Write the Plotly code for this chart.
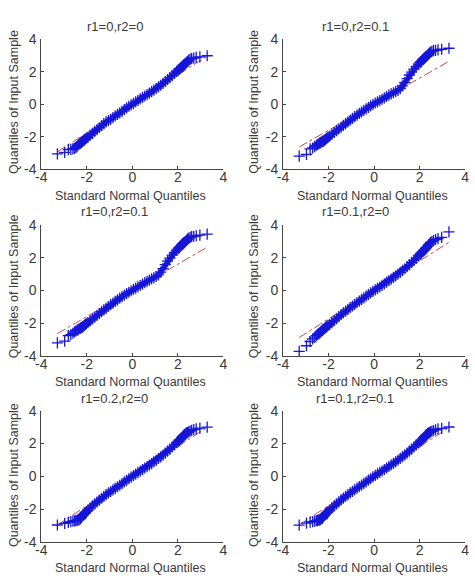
import plotly.graph_objects as go

# ---------------- data ----------------
titles = ["r1=0,r2=0", "r1=0,r2=0.1", "r1=0,r2=0.1", "r1=0.1,r2=0", "r1=0.2,r2=0", "r1=0.1,r2=0.1"]
tick_vals = [-4, -2, 0, 2, 4]
tick_text = ["-4", "-2", "0", "2", "4"]
x_label = "Standard Normal Quantiles"
y_label = "Quantiles of Input Sample"

# standard normal quantiles (shared x positions)
x_q = [-3.29, -2.97, -2.81, -2.70, -2.61, -2.54, -2.48, -2.43, -2.39, -2.35,
       -2.30, -2.27, -2.24, -2.21, -2.18, -2.14, -2.10, -2.06, -2.02,
       -1.95, -1.85, -1.75, -1.65, -1.55, -1.45, -1.35, -1.25, -1.15, -1.05,
       -0.95, -0.85, -0.75, -0.65, -0.55, -0.45, -0.35, -0.25, -0.15, -0.05,
       0.05, 0.15, 0.25, 0.35, 0.45, 0.55, 0.65, 0.75, 0.85, 0.95,
       1.05, 1.15, 1.25, 1.35, 1.45, 1.55, 1.65, 1.75, 1.85, 1.95,
       2.02, 2.06, 2.10, 2.14, 2.18, 2.21, 2.24, 2.27, 2.30, 2.35,
       2.39, 2.43, 2.48, 2.54, 2.61, 2.70, 2.81, 2.97, 3.29]

y_p1 = [-3.04, -2.95, -2.78, -2.76, -2.74, -2.70, -2.66, -2.60, -2.52, -2.45,
        -2.40, -2.36, -2.33, -2.30, -2.27, -2.22, -2.18, -2.13, -2.08,
        -2.03, -1.90, -1.78, -1.66, -1.56, -1.44, -1.30, -1.18, -1.08, -1.00,
        -0.92, -0.82, -0.71, -0.62, -0.53, -0.43, -0.33, -0.22, -0.12, -0.03,
        0.06, 0.15, 0.24, 0.33, 0.42, 0.51, 0.60, 0.69, 0.78, 0.87,
        0.97, 1.07, 1.17, 1.29, 1.40, 1.52, 1.64, 1.76, 1.89, 2.02,
        2.10, 2.15, 2.20, 2.25, 2.30, 2.34, 2.38, 2.42, 2.47, 2.53,
        2.58, 2.64, 2.72, 2.77, 2.80, 2.84, 2.88, 2.91, 2.98]

y_p2 = [-3.18, -3.08, -2.74, -2.68, -2.60, -2.52, -2.46, -2.42, -2.38, -2.35,
        -2.31, -2.28, -2.26, -2.24, -2.20, -2.16, -2.11, -2.06, -2.02,
        -1.95, -1.84, -1.73, -1.62, -1.51, -1.40, -1.29, -1.18, -1.08, -0.97,
        -0.86, -0.76, -0.66, -0.56, -0.46, -0.37, -0.28, -0.19, -0.10, -0.01,
        0.08, 0.15, 0.23, 0.31, 0.39, 0.48, 0.56, 0.64, 0.71, 0.78,
        0.86, 0.96, 1.13, 1.34, 1.58, 1.80, 1.98, 2.16, 2.32, 2.46,
        2.56, 2.62, 2.68, 2.74, 2.80, 2.84, 2.88, 2.92, 2.96, 3.02,
        3.08, 3.14, 3.20, 3.25, 3.29, 3.31, 3.34, 3.38, 3.44]

y_p3 = list(y_p2)

y_p4 = [-3.70, -3.36, -3.10, -2.95, -2.84, -2.74, -2.67, -2.62, -2.57, -2.52,
        -2.46, -2.42, -2.38, -2.34, -2.31, -2.26, -2.21, -2.16, -2.11,
        -2.07, -1.95, -1.83, -1.71, -1.59, -1.47, -1.36, -1.25, -1.14, -1.04,
        -0.94, -0.84, -0.74, -0.64, -0.54, -0.44, -0.34, -0.24, -0.14, -0.05,
        0.04, 0.13, 0.22, 0.32, 0.41, 0.51, 0.60, 0.70, 0.80, 0.90,
        1.00, 1.11, 1.22, 1.33, 1.46, 1.58, 1.71, 1.84, 1.98, 2.12,
        2.20, 2.26, 2.32, 2.38, 2.44, 2.48, 2.53, 2.58, 2.63, 2.71,
        2.78, 2.84, 2.92, 2.98, 3.04, 3.10, 3.16, 3.24, 3.58]

y_p5 = [-2.96, -2.86, -2.80, -2.76, -2.73, -2.71, -2.69, -2.68, -2.66, -2.64,
        -2.60, -2.56, -2.50, -2.44, -2.38, -2.32, -2.26, -2.20, -2.15,
        -2.06, -1.93, -1.80, -1.68, -1.56, -1.44, -1.33, -1.22, -1.11, -1.01,
        -0.92, -0.82, -0.73, -0.63, -0.54, -0.44, -0.34, -0.24, -0.14, -0.04,
        0.05, 0.14, 0.23, 0.32, 0.41, 0.51, 0.60, 0.69, 0.78, 0.88,
        0.98, 1.09, 1.19, 1.30, 1.42, 1.54, 1.66, 1.79, 1.92, 2.05,
        2.13, 2.18, 2.24, 2.30, 2.36, 2.42, 2.47, 2.52, 2.56, 2.61,
        2.65, 2.68, 2.72, 2.76, 2.80, 2.85, 2.90, 2.94, 3.00]

y_p6 = [-2.97, -2.85, -2.79, -2.75, -2.72, -2.70, -2.68, -2.67, -2.65, -2.62,
        -2.58, -2.54, -2.48, -2.42, -2.36, -2.30, -2.24, -2.19, -2.14,
        -2.05, -1.92, -1.79, -1.67, -1.55, -1.43, -1.32, -1.21, -1.11, -1.01,
        -0.91, -0.81, -0.72, -0.62, -0.53, -0.43, -0.33, -0.23, -0.13, -0.03,
        0.06, 0.15, 0.24, 0.33, 0.42, 0.51, 0.61, 0.70, 0.79, 0.89,
        0.99, 1.09, 1.20, 1.31, 1.42, 1.54, 1.66, 1.79, 1.92, 2.04,
        2.12, 2.17, 2.23, 2.29, 2.35, 2.40, 2.45, 2.50, 2.55, 2.60,
        2.64, 2.67, 2.71, 2.75, 2.79, 2.84, 2.89, 2.93, 3.01]

# reference (fit) line end points for each panel
line_x = [-3.29, 3.29]
line_y = [[-2.91, 2.95], [-2.62, 2.64], [-2.62, 2.64], [-2.86, 2.94], [-2.96, 2.99], [-2.95, 2.97]]

samples = [y_p1, y_p2, y_p3, y_p4, y_p5, y_p6]

# ---------------- layout geometry (pixels in 475x588) ----------------
W, H = 475, 588
col_px = [(36, 222), (283, 469)]
row_px = [(32, 166), (223, 358), (414, 549)]
title_x = [111, 357]
title_y = [19, 209.5, 401]
xlab_x = [127.5, 374]
xlab_y = [193, 384, 576]
ylab_x = [8.3, 253.3]
ylab_y = [96.5, 286, 480]

FONT = "Liberation Sans, Arial, sans-serif"
TXT = "#3a3a3a"
BLUE = "rgb(22,22,215)"
RED = "rgb(205,70,70)"

# the dense central part of each sample (where the 1000 points merge into a band)
dense = slice(9, len(x_q) - 9)

fig = go.Figure()
layout = dict(width=W, height=H, margin=dict(l=0, r=0, t=0, b=0),
              paper_bgcolor="white", plot_bgcolor="white", showlegend=False,
              annotations=[])

for i in range(6):
    r, c = divmod(i, 2)
    n = "" if i == 0 else str(i + 1)
    xd = [col_px[c][0] / W, col_px[c][1] / W]
    yd = [1 - row_px[r][1] / H, 1 - row_px[r][0] / H]
    ax = dict(range=[-4, 4], tickmode="array", tickvals=tick_vals, ticktext=tick_text,
              ticks="inside", ticklen=3, tickcolor="#444", showline=True, linecolor="#444",
              linewidth=1, showgrid=False, zeroline=False, mirror=False,
              tickfont=dict(family=FONT, size=14, color=TXT), fixedrange=True)
    layout["xaxis" + n] = dict(ax, domain=xd, anchor="y" + n, ticklabelstandoff=-5)
    layout["yaxis" + n] = dict(ax, domain=yd, anchor="x" + n, ticklabelstandoff=1)

    fig.add_trace(go.Scatter(x=line_x, y=line_y[i], mode="lines",
                             line=dict(color=RED, width=1, dash="dashdot"),
                             xaxis="x" + n, yaxis="y" + n, hoverinfo="skip"))
    fig.add_trace(go.Scatter(x=x_q[dense], y=samples[i][dense], mode="lines",
                             line=dict(color=BLUE, width=5),
                             xaxis="x" + n, yaxis="y" + n, hoverinfo="skip"))
    fig.add_trace(go.Scatter(x=x_q, y=samples[i], mode="markers",
                             marker=dict(symbol="cross-thin", size=8,
                                         line=dict(width=1.3, color=BLUE)),
                             xaxis="x" + n, yaxis="y" + n))

    layout["annotations"] += [
        dict(text=titles[i], x=title_x[c] / W, y=1 - title_y[r] / H, xref="paper", yref="paper",
             xanchor="center", yanchor="middle", showarrow=False,
             font=dict(family=FONT, size=13, color=TXT)),
        dict(text=x_label, x=xlab_x[c] / W, y=1 - xlab_y[r] / H, xref="paper", yref="paper",
             xanchor="center", yanchor="middle", showarrow=False,
             font=dict(family=FONT, size=12.5, color=TXT)),
        dict(text=y_label, x=ylab_x[c] / W, y=1 - ylab_y[r] / H, xref="paper", yref="paper",
             xanchor="center", yanchor="middle", showarrow=False, textangle=-90,
             font=dict(family=FONT, size=12.5, color=TXT)),
    ]

fig.update_layout(**layout)
fig.write_html("out.html")
